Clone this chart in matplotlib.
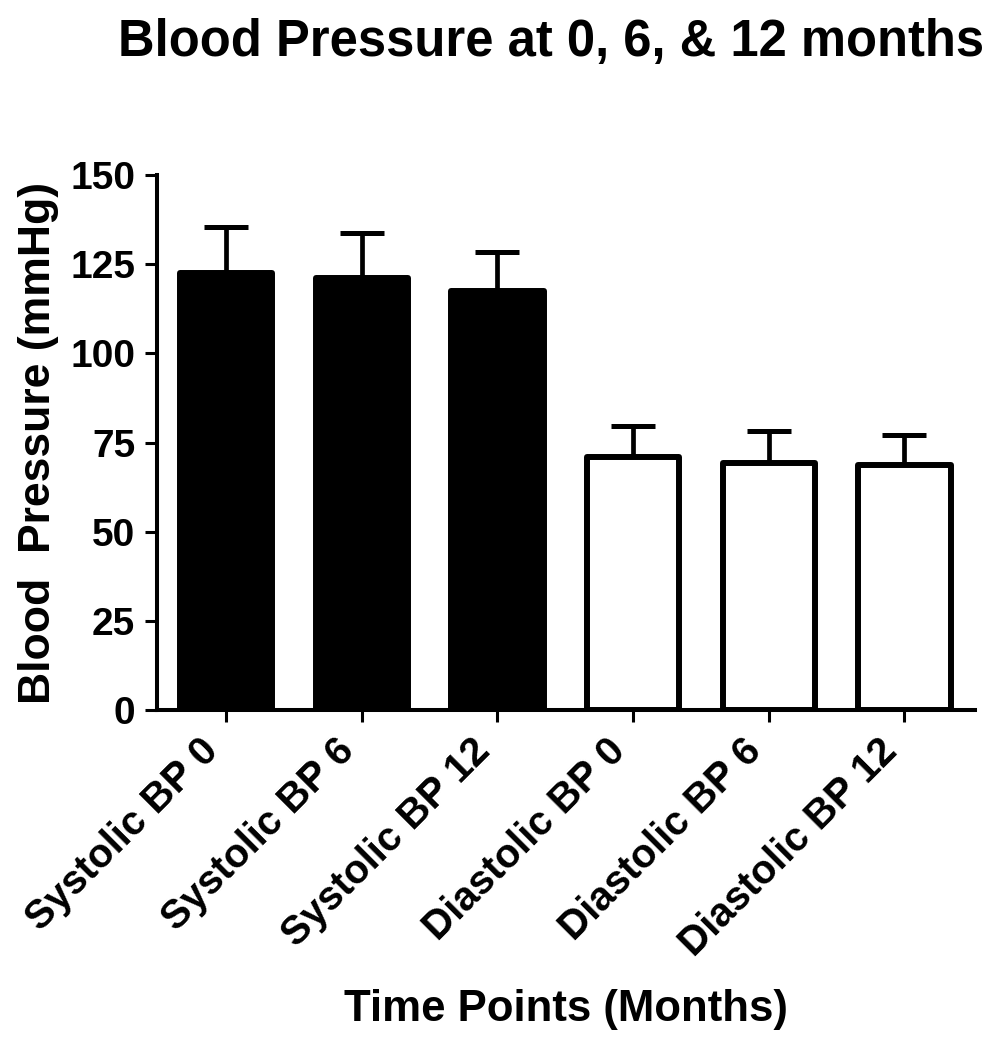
import numpy as np
import matplotlib
matplotlib.use("Agg")
import matplotlib.pyplot as plt
import matplotlib.transforms as mtransforms

plt.rcParams['font.family'] = ['Liberation Sans', 'DejaVu Sans']
plt.rcParams['font.weight'] = 'bold'

# data
groups = ["Systolic BP 0", "Systolic BP 6", "Systolic BP 12",
          "Diastolic BP 0", "Diastolic BP 6", "Diastolic BP 12"]
means = [122.5, 121.0, 117.5, 70.9, 69.2, 68.6]
sds = [12.8, 12.8, 10.9, 8.7, 9.1, 8.4]
fills = ["black", "black", "black", "white", "white", "white"]
yticks = [0, 25, 50, 75, 100, 125, 150]

fig = plt.figure(figsize=(10.05, 10.5), dpi=100)
ax = fig.add_axes([0.1562, 0.3238, 0.8139, 0.5095])

x = np.arange(len(groups))
ax.bar(x, means, width=0.68, color=fills, edgecolor="black",
       linewidth=4.3, joinstyle="round", zorder=2)
ax.errorbar(x, means, yerr=[np.zeros(len(sds)), sds], fmt="none",
            ecolor="black", elinewidth=3.4, capsize=16, capthick=3.6,
            zorder=1)

ax.set_xlim(-0.51, 5.52)
ax.set_ylim(0, 150)
ax.set_yticks(yticks)
ax.set_xticks(x)
ax.set_xticklabels(groups, rotation=45, ha="right", va="top", fontsize=29)

# nudge rotated labels a little to the right, like the original
shift = mtransforms.ScaledTranslation(7 / 100, 0, fig.dpi_scale_trans)
for lab in ax.get_xticklabels():
    lab.set_transform(lab.get_transform() + shift)

for side in ["top", "right"]:
    ax.spines[side].set_visible(False)
for side in ["left", "bottom"]:
    ax.spines[side].set_linewidth(2.9)

ax.tick_params(axis="both", length=8.6, width=2.2)
ax.tick_params(axis="y", pad=7, labelsize=28)
ax.tick_params(axis="x", pad=7)

ax.set_ylabel("Blood  Pressure (mmHg)", fontsize=32, fontweight="bold", labelpad=8)
ax.set_xlabel("Time Points (Months)", fontsize=31.5, fontweight="bold", labelpad=18)

fig.text(551 / 1005, 1 - 42 / 1050, "Blood Pressure at 0, 6, & 12 months",
         ha="center", va="center", fontsize=36.5, fontweight="bold")

fig.savefig("out.png", dpi=100)
